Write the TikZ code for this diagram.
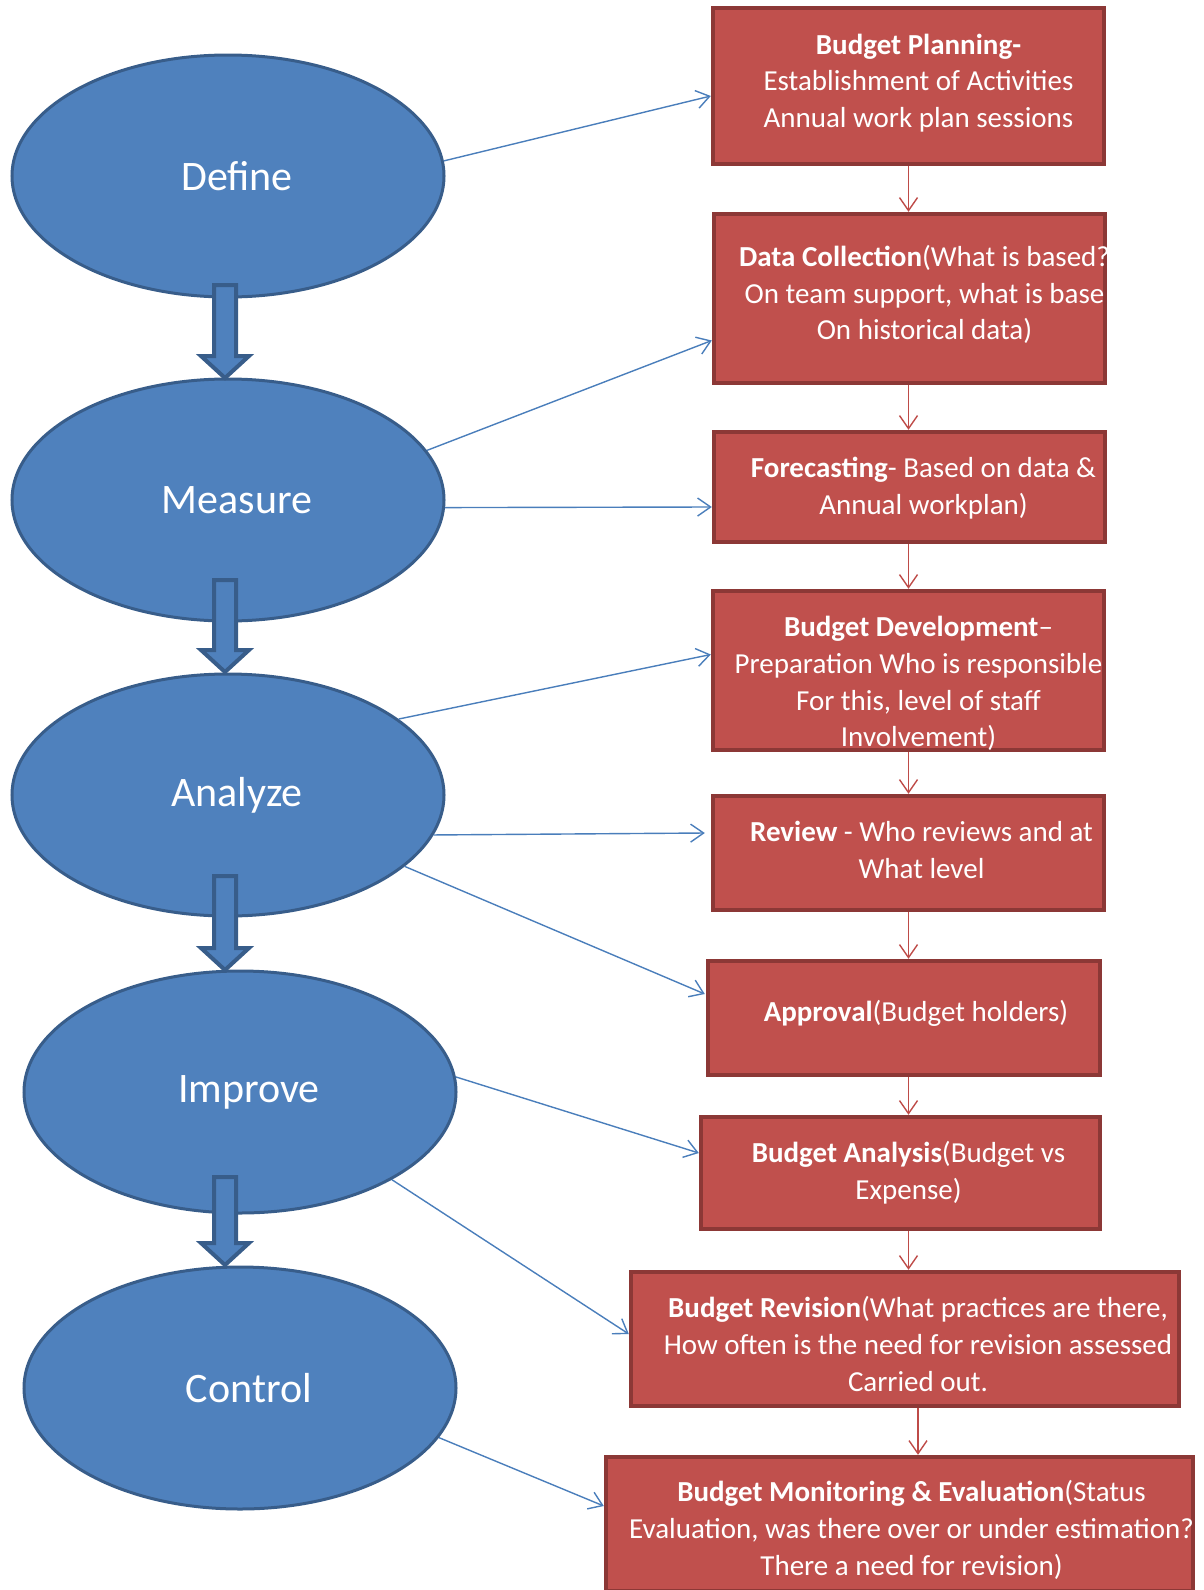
\documentclass[tikz,border=0pt]{standalone}
\usepackage{fontspec}
\setmainfont{Carlito}
\usetikzlibrary{arrows.meta,shapes.geometric,calc}

\definecolor{ovalblue}{HTML}{4F81BD}
\definecolor{ovalline}{HTML}{385D8A}
\definecolor{boxred}{HTML}{C0504D}
\definecolor{boxline}{HTML}{8C3836}
\definecolor{linkblue}{HTML}{4A7EBB}
\definecolor{linkred}{HTML}{BE4B48}

\tikzset{
  phase/.style={ellipse, draw=ovalline, line width=1.5pt, fill=ovalblue,
    minimum width=216pt, minimum height=121pt, text=white,
    font=\fontsize{21}{25}\selectfont, execute at begin node={\hspace*{9pt}}},
  task/.style={rectangle, draw=boxline, line width=2.2pt, fill=boxred},
  tasktext/.style={text=white, align=center, inner sep=0pt,
    font=\fontsize{14.5}{18.4}\selectfont},
  tolink/.style={draw=linkblue, line width=0.7pt,
    -{Straight Barb[length=6.5pt,width=9pt]}},
  downlink/.style={draw=linkred, line width=0.7pt,
    -{Straight Barb[length=6.5pt,width=9pt]}},
  bigarrow/.style={draw=ovalline, line width=2pt, fill=ovalblue, line join=miter},
}

\begin{document}
\begin{tikzpicture}[x=0.5pt, y=-0.5pt]
  \useasboundingbox (0,0) rectangle (1204,1590);

  % DMAIC phases
  \node[phase] (define)  at (228,176)  {Define};
  \node[phase] (measure) at (228,500)  {Measure};
  \node[phase] (analyze) at (228,795)  {Analyze};
  \node[phase] (improve) at (240,1092) {Improve};
  \node[phase] (control) at (240,1388) {Control};

  \foreach \ytop/\ytip in {285/378, 580/672, 876/970, 1177/1265}
    \draw[bigarrow] (214,\ytop) -- (236,\ytop) -- (236,\ytip-22) -- (249,\ytip-22)
      -- (225,\ytip) -- (201,\ytip-22) -- (214,\ytip-22) -- cycle;

  % budget steps
  \node[task, minimum width=195.5pt, minimum height=78pt] (plan) at (908.5,86) {};
  \node[tasktext] (plantext) at ($(plan)+(10,-3)$)
    {\textbf{Budget Planning-}\\Establishment of Activities\\Annual work plan sessions};

  \node[task, minimum width=195.5pt, minimum height=84.5pt] (data) at (909.5,298.5) {};
  \begin{scope}
    \clip (data.north west) rectangle (data.south east);
    \node[tasktext] (datatext) at ($(data)+(15,-4)$)
      {\textbf{Data Collection}(What is based?\\On team support, what is base\\On historical data)};
  \end{scope}

  \node[task, minimum width=195.5pt, minimum height=55pt] (fore) at (909.5,487) {};
  \node[tasktext] (foretext) at ($(fore)+(14,1)$)
    {\textbf{Forecasting}- Based on data \&\\Annual workplan)};

  \node[task, minimum width=195.5pt, minimum height=79.5pt] (dev) at (908.5,670.5) {};
  \node[tasktext] (devtext) at ($(dev)+(10,13)$)
    {\textbf{Budget Development}–\\Preparation Who is responsible\\For this, level of staff\\Involvement)};

  \node[task, minimum width=195.5pt, minimum height=57pt] (review) at (908.5,853) {};
  \node[tasktext] (reviewtext) at ($(review)+(13,-3)$)
    {\textbf{Review} - Who reviews and at\\What level};

  \node[task, minimum width=196pt, minimum height=57pt] (appr) at (904,1018) {};
  \node[tasktext] (apprtext) at ($(appr)+(12,-5)$)
    {\textbf{Approval}(Budget holders)};

  \node[task, minimum width=199.5pt, minimum height=56pt] (anal) at (900.5,1173) {};
  \node[tasktext] (analtext) at ($(anal)+(8,0)$)
    {\textbf{Budget Analysis}(Budget vs\\Expense)};

  \node[task, minimum width=274pt, minimum height=67pt] (rev) at (905,1339) {};
  \node[tasktext] (revtext) at ($(rev)+(13,5)$)
    {\textbf{Budget Revision}(What practices are there,\\How often is the need for revision assessed\\Carried out.};

  \node[task, minimum width=293.5pt, minimum height=67pt] (mon) at (899.5,1524) {};
  \begin{scope}
    \clip (mon.north west) rectangle (mon.south east);
    \node[tasktext] (montext) at ($(mon)+(12,6)$)
      {\textbf{Budget Monitoring \& Evaluation}(Status\\Evaluation, was there over or under estimation?\\There a need for revision)};
  \end{scope}

  % phase to step links
  \draw[tolink] (define.4)    -- ($(plan.west)+(0,10)$);
  \draw[tolink] (measure.14)  -- ($(data.west)+(0,42)$);
  \draw[tolink] (measure.-2)  -- ($(fore.west)+(0,20)$);
  \draw[tolink] (analyze.24)  -- ($(dev.west)+(0,-16)$);
  \draw[tolink] (analyze.-11) -- ($(review.west)+(-6,-20)$);
  \draw[tolink] (analyze.-22) -- ($(appr.west)+(-1,-24)$);
  \draw[tolink] (improve.4)   -- ($(anal.west)+(0,-20)$);
  \draw[tolink] (improve.-30) -- ($(rev.west)+(0,-5)$);
  \draw[tolink] (control.-14) -- ($(mon.west)+(0,-18)$);

  % step order
  \foreach \a/\b in {plan/data, data/fore, fore/dev, dev/review, review/appr, appr/anal, anal/rev}
    \draw[downlink] (\a.south -| plan.south) -- (\b.north -| plan.south);
  \draw[downlink] ($(rev.south)+(13,0)$) -- ($(mon.north -| rev.south)+(13,0)$);
\end{tikzpicture}
\end{document}
